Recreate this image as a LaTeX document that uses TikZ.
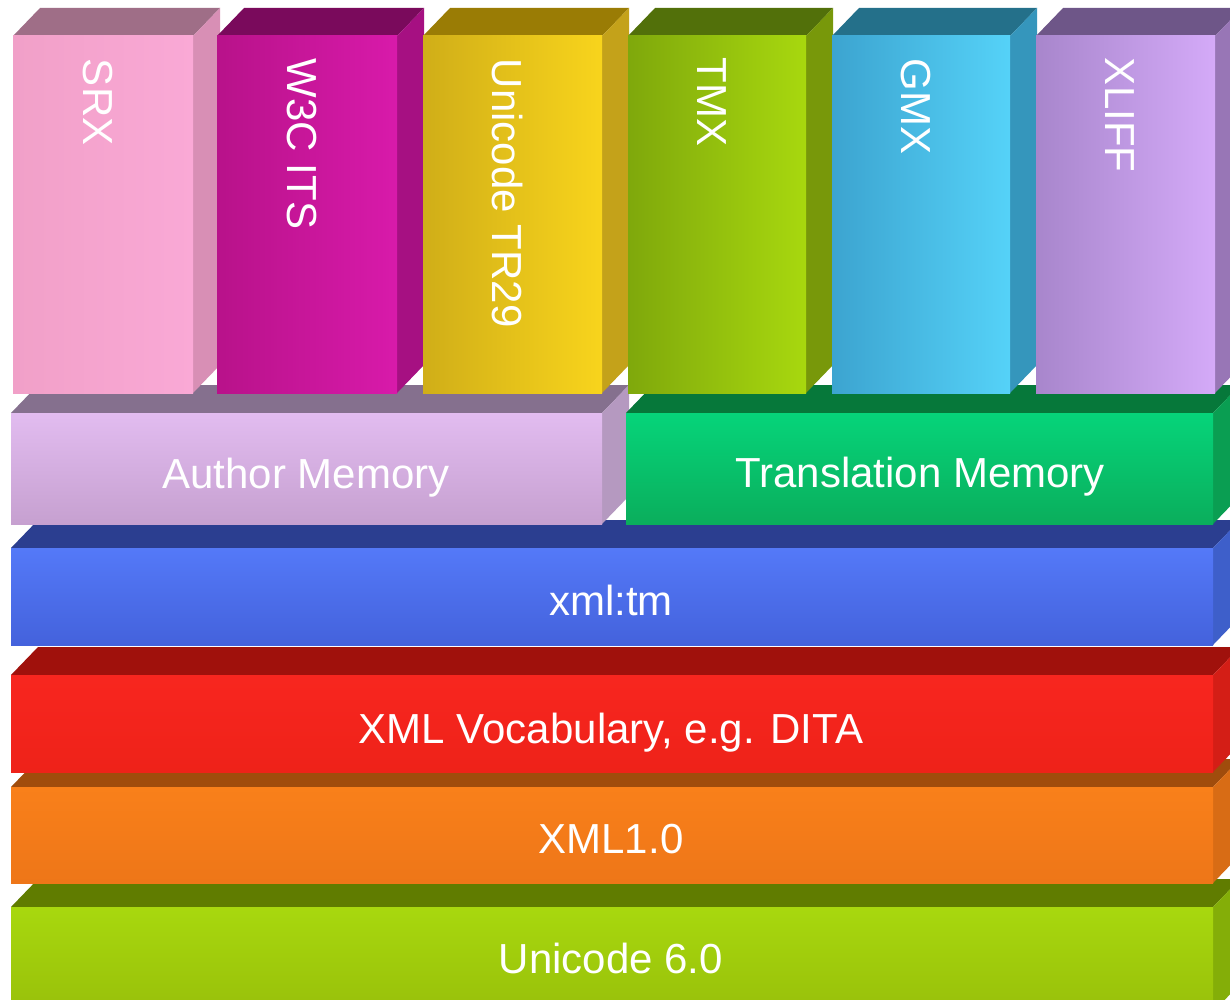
\documentclass[tikz,border=0pt]{standalone}
\usepackage{fontspec}
\setmainfont{Liberation Sans}
\usetikzlibrary{calc}

% colours
\definecolor{srxL}{HTML}{F1A0C8}\definecolor{srxR}{HTML}{FAA9D6}\definecolor{srxT}{HTML}{9F6E87}\definecolor{srxS}{HTML}{D88FB5}
\definecolor{w3cL}{HTML}{B8128A}\definecolor{w3cR}{HTML}{D81AAA}\definecolor{w3cT}{HTML}{7A0A5C}\definecolor{w3cS}{HTML}{A61082}
\definecolor{trL}{HTML}{D0AE18}\definecolor{trR}{HTML}{F8D41C}\definecolor{trT}{HTML}{9A7C05}\definecolor{trS}{HTML}{C4A21A}
\definecolor{tmxL}{HTML}{7FA80C}\definecolor{tmxR}{HTML}{A8D80E}\definecolor{tmxT}{HTML}{52700A}\definecolor{tmxS}{HTML}{78980A}
\definecolor{gmxL}{HTML}{3CA4D0}\definecolor{gmxR}{HTML}{55D2F8}\definecolor{gmxT}{HTML}{24708A}\definecolor{gmxS}{HTML}{3596BC}
\definecolor{xlfL}{HTML}{A886CC}\definecolor{xlfR}{HTML}{D4AAF8}\definecolor{xlfT}{HTML}{6E5688}\definecolor{xlfS}{HTML}{9876B6}
\definecolor{amA}{HTML}{E2BCF0}\definecolor{amB}{HTML}{C6A0D0}\definecolor{amT}{HTML}{85708E}\definecolor{amS}{HTML}{B599C0}
\definecolor{tmA}{HTML}{06D47A}\definecolor{tmB}{HTML}{0AAE5C}\definecolor{tmT}{HTML}{06783A}\definecolor{tmS}{HTML}{0A9E52}
\definecolor{xtA}{HTML}{5479F8}\definecolor{xtB}{HTML}{4462DC}\definecolor{xtT}{HTML}{2B3E90}\definecolor{xtS}{HTML}{3E5FCA}
\definecolor{rdA}{HTML}{F8261F}\definecolor{rdB}{HTML}{EE2219}\definecolor{rdT}{HTML}{A0110C}\definecolor{rdS}{HTML}{D41E16}
\definecolor{orA}{HTML}{F9801A}\definecolor{orB}{HTML}{EE7618}\definecolor{orT}{HTML}{A04C0C}\definecolor{orS}{HTML}{D86C15}
\definecolor{gnA}{HTML}{A8D80E}\definecolor{gnB}{HTML}{98C00A}\definecolor{gnT}{HTML}{607C00}\definecolor{gnS}{HTML}{84AE08}

% cuboid: x1,y1 (front top-left), x2,y2 (front bottom-right), front style, top colour, side colour
\newcommand{\cuboidbox}[7]{%
  \fill[#6] (#1,#2) -- (#1+27,#2-28) -- (#3+27,#2-28) -- (#3,#2) -- cycle;
  \fill[#7] (#3,#2) -- (#3+27,#2-28) -- (#3+27,#4-28) -- (#3,#4) -- cycle;
  \fill[#5] (#1,#2) rectangle (#3,#4);
}

\tikzset{
  lbl/.style={text=white, inner sep=0pt, outer sep=0pt, font=\fontsize{42}{50}\selectfont},
  coltext/.style={lbl, rotate=-90, anchor=base west},
  laytext/.style={lbl, anchor=base},
  colfront/.style 2 args={left color=#1, right color=#2},
  layfront/.style 2 args={top color=#1, bottom color=#2},
}

\begin{document}
\begin{tikzpicture}[x=1pt,y=-1pt]
\useasboundingbox (0,0) rectangle (1230,1000);
\fill[white] (0,0) rectangle (1230,1000);
\clip (0,0) rectangle (1230,1000);

% base layers, from bottom up
\cuboidbox{11}{907}{1213}{1012}{layfront={gnA}{gnB}}{gnT}{gnS}
\cuboidbox{11}{787}{1213}{883}{layfront={orA}{orB}}{orT}{orS}
\cuboidbox{11}{675}{1213}{772}{layfront={rdA}{rdB}}{rdT}{rdS}
\cuboidbox{11}{548}{1213}{645}{layfront={xtA}{xtB}}{xtT}{xtS}
\cuboidbox{11}{413}{602}{524}{layfront={amA}{amB}}{amT}{amS}
\cuboidbox{626}{413}{1213}{524}{layfront={tmA}{tmB}}{tmT}{tmS}

% columns
\cuboidbox{13}{36}{193}{393}{colfront={srxL}{srxR}}{srxT}{srxS}
\cuboidbox{217}{36}{397}{393}{colfront={w3cL}{w3cR}}{w3cT}{w3cS}
\cuboidbox{423}{36}{602}{393}{colfront={trL}{trR}}{trT}{trS}
\cuboidbox{628}{36}{806}{393}{colfront={tmxL}{tmxR}}{tmxT}{tmxS}
\cuboidbox{832}{36}{1010}{393}{colfront={gmxL}{gmxR}}{gmxT}{gmxS}
\cuboidbox{1036}{36}{1215}{393}{colfront={xlfL}{xlfR}}{xlfT}{xlfS}

% column labels
\node[coltext] (srx)   at (83,59)   {SRX};
\node[coltext] (w3c)   at (287,59)  {W3C ITS};
\node[coltext] (tr29)  at (492,59)  {Unicode TR29};
\node[coltext] (tmx)   at (697,58)  {TMX};
\node[coltext] (gmx)   at (901,59)  {GMX};
\node[coltext] (xliff) at (1105,58) {XLIFF};

% layer labels
\node[laytext] (am)   at (306,488) {Author Memory};
\node[laytext] (tm)   at (920,487) {Translation Memory};
\node[laytext] (xtm)  at (611,615) {xml:tm};
\node[laytext] (voc)  at (611,743) {XML Vocabulary, e.g. DITA};
\node[laytext] (xml)  at (611,853) {XML1.0};
\node[laytext] (uni)  at (611,973) {Unicode 6.0};
\end{tikzpicture}
\end{document}
